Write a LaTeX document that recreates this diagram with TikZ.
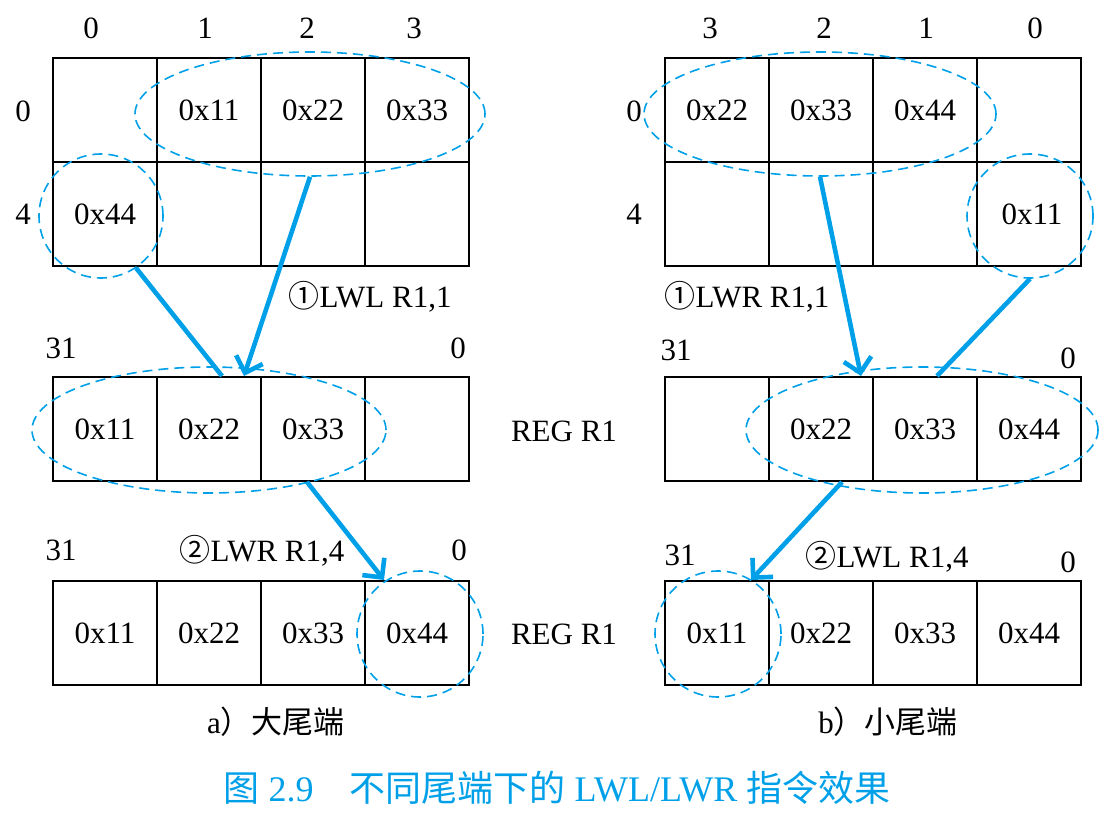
\documentclass[tikz,border=0pt]{standalone}
\usepackage{fontspec}
\setmainfont{Liberation Serif}
\newfontfamily\cjk{Noto Sans CJK SC}
\usetikzlibrary{arrows.meta,shapes.geometric}
\definecolor{lineblue}{RGB}{0,160,233}
\begin{document}
\begin{tikzpicture}[x=0.5pt,y=-0.5pt,
  font=\fontsize{15.5pt}{18pt}\selectfont,
  cell/.style={draw,line width=1pt,minimum size=52pt,inner sep=0pt},
  pick/.style={draw=lineblue,ellipse,dash pattern=on 5pt off 3pt,line width=0.8pt,inner sep=0pt},
  link/.style={draw=lineblue,line width=2.3pt},
  move/.style={link,-{Straight Barb[length=7pt,width=14pt]}}]
\useasboundingbox (0,0) rectangle (1117,817);

% a) big endian
\node (lh0) at (91,28) {0};
\node (lh1) at (205,28) {1};
\node (lh2) at (307,28) {2};
\node (lh3) at (414,28) {3};
\node (lv0) at (23,111) {0};
\node (lv4) at (23,214) {4};
\node[cell] (la0) at (105,110) {};
\node[cell] (la1) at (209,110) {0x11};
\node[cell] (la2) at (313,110) {0x22};
\node[cell] (la3) at (417,110) {0x33};
\node[cell] (lb0) at (105,214) {0x44};
\node[cell] (lb1) at (209,214) {};
\node[cell] (lb2) at (313,214) {};
\node[cell] (lb3) at (417,214) {};
\node (lop1) at (370,297) {{\cjk ①}LWL R1,1};
\node (lhi1) at (61,348) {31};
\node (llo1) at (458,348) {0};
\node[cell] (lr0) at (105,429) {0x11};
\node[cell] (lr1) at (209,429) {0x22};
\node[cell] (lr2) at (313,429) {0x33};
\node[cell] (lr3) at (417,429) {};
\node (lreg1) at (564,431) {REG R1};
\node (lhi2) at (61,550) {31};
\node (lop2) at (262,551) {{\cjk ②}LWR R1,4};
\node (llo2) at (459,550) {0};
\node[cell] (ls0) at (105,633) {0x11};
\node[cell] (ls1) at (209,633) {0x22};
\node[cell] (ls2) at (313,633) {0x33};
\node[cell] (ls3) at (417,633) {0x44};
\node (lreg2) at (564,634) {REG R1};
\node (lcap) at (276,722) {a{\cjk ）大尾端}};

\node[pick,minimum width=175pt,minimum height=62pt] (lovA) at (310,114) {};
\node[pick,minimum width=62pt,minimum height=62pt] (lovB) at (101,216) {};
\node[pick,minimum width=177pt,minimum height=63pt] (lovC) at (209,430) {};
\node[pick,minimum width=63pt,minimum height=63pt] (lovD) at (420,634) {};

\path[link] (lovB.-56) -- ([xshift=-20pt]lr1.north east);
\path[move] (lovA.south) -- ([xshift=-9pt]lr1.north east);
\path[move] ([xshift=-3pt]lr2.south) -- ([xshift=10pt]ls3.north west);

% b) little endian
\node (rh3) at (710,28) {3};
\node (rh2) at (824,28) {2};
\node (rh1) at (926,28) {1};
\node (rh0) at (1035,28) {0};
\node (rv0) at (634,111) {0};
\node (rv4) at (634,214) {4};
\node[cell] (ra0) at (717,110) {0x22};
\node[cell] (ra1) at (821,110) {0x33};
\node[cell] (ra2) at (925,110) {0x44};
\node[cell] (ra3) at (1029,110) {};
\node[cell] (rb0) at (717,214) {};
\node[cell] (rb1) at (821,214) {};
\node[cell] (rb2) at (925,214) {};
\node[cell] (rb3) at (1029,214) {};
\node (rb3t) at (1032,214) {0x11};
\node (rop1) at (747,297) {{\cjk ①}LWR R1,1};
\node (rhi1) at (676,350) {31};
\node (rlo1) at (1068,358) {0};
\node[cell] (rr0) at (717,429) {};
\node[cell] (rr1) at (821,429) {0x22};
\node[cell] (rr2) at (925,429) {0x33};
\node[cell] (rr3) at (1029,429) {0x44};
\node (rhi2) at (680,555) {31};
\node (rop2) at (887,557) {{\cjk ②}LWL R1,4};
\node (rlo2) at (1068,562) {0};
\node[cell] (rs0) at (717,633) {0x11};
\node[cell] (rs1) at (821,633) {0x22};
\node[cell] (rs2) at (925,633) {0x33};
\node[cell] (rs3) at (1029,633) {0x44};
\node (rcap) at (888,722) {b{\cjk ）小尾端}};

\node[pick,minimum width=176pt,minimum height=62pt] (rovA) at (820,114) {};
\node[pick,minimum width=63pt,minimum height=62pt] (rovB) at (1030,216) {};
\node[pick,minimum width=176pt,minimum height=63pt] (rovC) at (922,430) {};
\node[pick,minimum width=63pt,minimum height=63pt] (rovD) at (718,634) {};

\path[move] (rovA.south) -- ([xshift=-6.5pt]rr1.north east);
\path[link] (rovB.south) -- ([xshift=6pt]rr2.north);
\path[move] ([xshift=10.5pt]rr1.south) -- ([xshift=-9.5pt]rs0.north east);

\node[text=lineblue,font=\fontsize{18pt}{20pt}\selectfont] (fig) at (557,788)
  {{\cjk 图} 2.9\quad{\cjk 不同尾端下的} LWL/LWR {\cjk 指令效果}};
\end{tikzpicture}
\end{document}
